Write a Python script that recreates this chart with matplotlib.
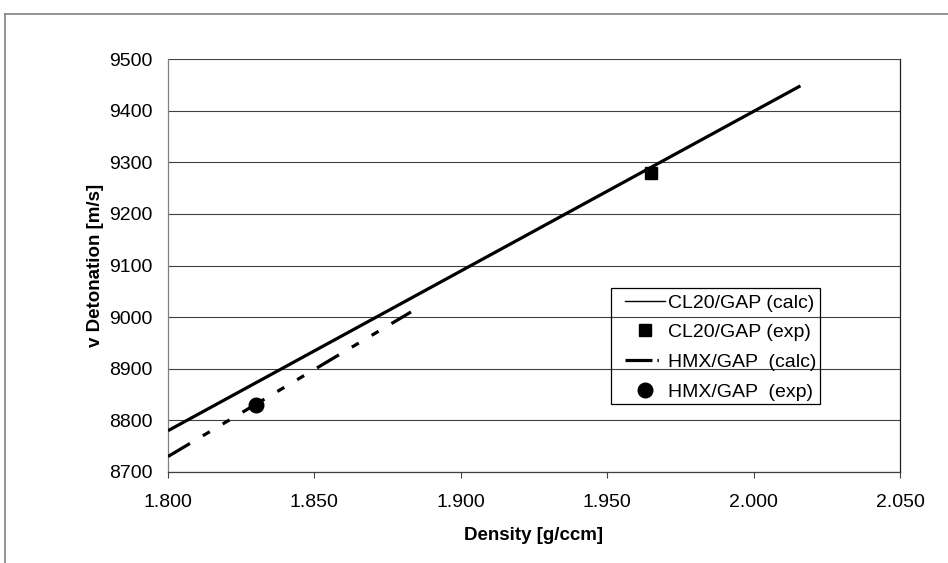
import matplotlib
matplotlib.use("Agg")
import matplotlib.pyplot as plt
from matplotlib.lines import Line2D
from matplotlib.patches import Rectangle

plt.rcParams['font.family'] = ['Liberation Sans', 'DejaVu Sans']
plt.rcParams['lines.scale_dashes'] = False

# Data
cl20_calc_x = [1.800, 2.016]
cl20_calc_y = [8780, 9448]
cl20_exp_x = [1.965]
cl20_exp_y = [9280]
hmx_calc_x = [1.800, 1.883]
hmx_calc_y = [8730, 9010]
hmx_exp_x = [1.830]
hmx_exp_y = [8830]
xticks = [1.800, 1.850, 1.900, 1.950, 2.000, 2.050]
xtick_labels = ["1.800", "1.850", "1.900", "1.950", "2.000", "2.050"]
yticks = [8700, 8800, 8900, 9000, 9100, 9200, 9300, 9400, 9500]
labels = ["CL20/GAP (calc)", "CL20/GAP (exp)", "HMX/GAP  (calc)", "HMX/GAP  (exp)"]

W, H = 948, 563
fig = plt.figure(figsize=(W / 100, H / 100), dpi=100)
ax = fig.add_axes([168 / W, 1 - 472 / H, (900 - 168) / W, (472 - 59) / H])

fs = 14
hmx_dash = (0, (18.4, 10.8, 5.8, 10.8, 5.8, 10.8))

ax.plot(cl20_calc_x, cl20_calc_y, color='black', lw=2.3, solid_capstyle='butt', zorder=3)
ax.plot(cl20_exp_x, cl20_exp_y, ls='none', marker='s', ms=8.5, color='black', zorder=4)
ax.plot(hmx_calc_x, hmx_calc_y, color='black', lw=2.3, linestyle=hmx_dash, zorder=3)
ax.plot(hmx_exp_x, hmx_exp_y, ls='none', marker='o', ms=10.5, color='black', zorder=4)

ax.set_xlim(1.800, 2.050)
ax.set_ylim(8700, 9500)
ax.set_xticks(xticks)
ax.set_xticklabels(xtick_labels)
ax.set_yticks(yticks)
ax.tick_params(axis='x', direction='out', length=4, width=0.8, color='#404040',
               labelsize=fs, pad=12)
ax.tick_params(axis='y', length=0, labelsize=fs, pad=11)
ax.yaxis.grid(True, color='#404040', lw=0.8)
ax.set_axisbelow(True)

ax.spines['top'].set_visible(False)
ax.spines['left'].set_color('#808080')
ax.spines['left'].set_linewidth(0.9)
ax.spines['bottom'].set_color('#404040')
ax.spines['bottom'].set_linewidth(0.9)
ax.spines['right'].set_color('#202020')
ax.spines['right'].set_linewidth(0.9)

ax.set_xlabel("Density [g/ccm]", fontsize=13.5, fontweight='bold', labelpad=11)
ax.set_ylabel("v Detonation [m/s]", fontsize=13.5, fontweight='bold', labelpad=4)

handles = [
    Line2D([], [], color='black', lw=1.0),
    Line2D([], [], ls='none', marker='s', ms=8.5, color='black'),
    Line2D([], [], color='black', lw=2.3, linestyle=(0, (19.4, 3.6, 1.0, 30))),
    Line2D([], [], ls='none', marker='o', ms=10.5, color='black'),
]
leg = ax.legend(handles, labels, loc='upper left',
                bbox_to_anchor=(625 / W, 1 - 294 / H),
                bbox_transform=fig.transFigure,
                borderaxespad=0, borderpad=0, fontsize=fs, frameon=False,
                handlelength=40 / 19.44, handletextpad=0.15,
                labelspacing=0.62)

# legend frame
fig.add_artist(Rectangle((611 / W, 1 - 404 / H), (820 - 611) / W, (404 - 288) / H,
                         transform=fig.transFigure, fill=False, edgecolor='black',
                         lw=0.9, zorder=5))

# outer chart border
fig.add_artist(Line2D([5 / W, 1], [1 - 14 / H, 1 - 14 / H], color='#808080', lw=1.2,
                      transform=fig.transFigure))
fig.add_artist(Line2D([5 / W, 5 / W], [0, 1 - 14 / H], color='#808080', lw=1.2,
                      transform=fig.transFigure))

fig.savefig("out.png", dpi=100)
